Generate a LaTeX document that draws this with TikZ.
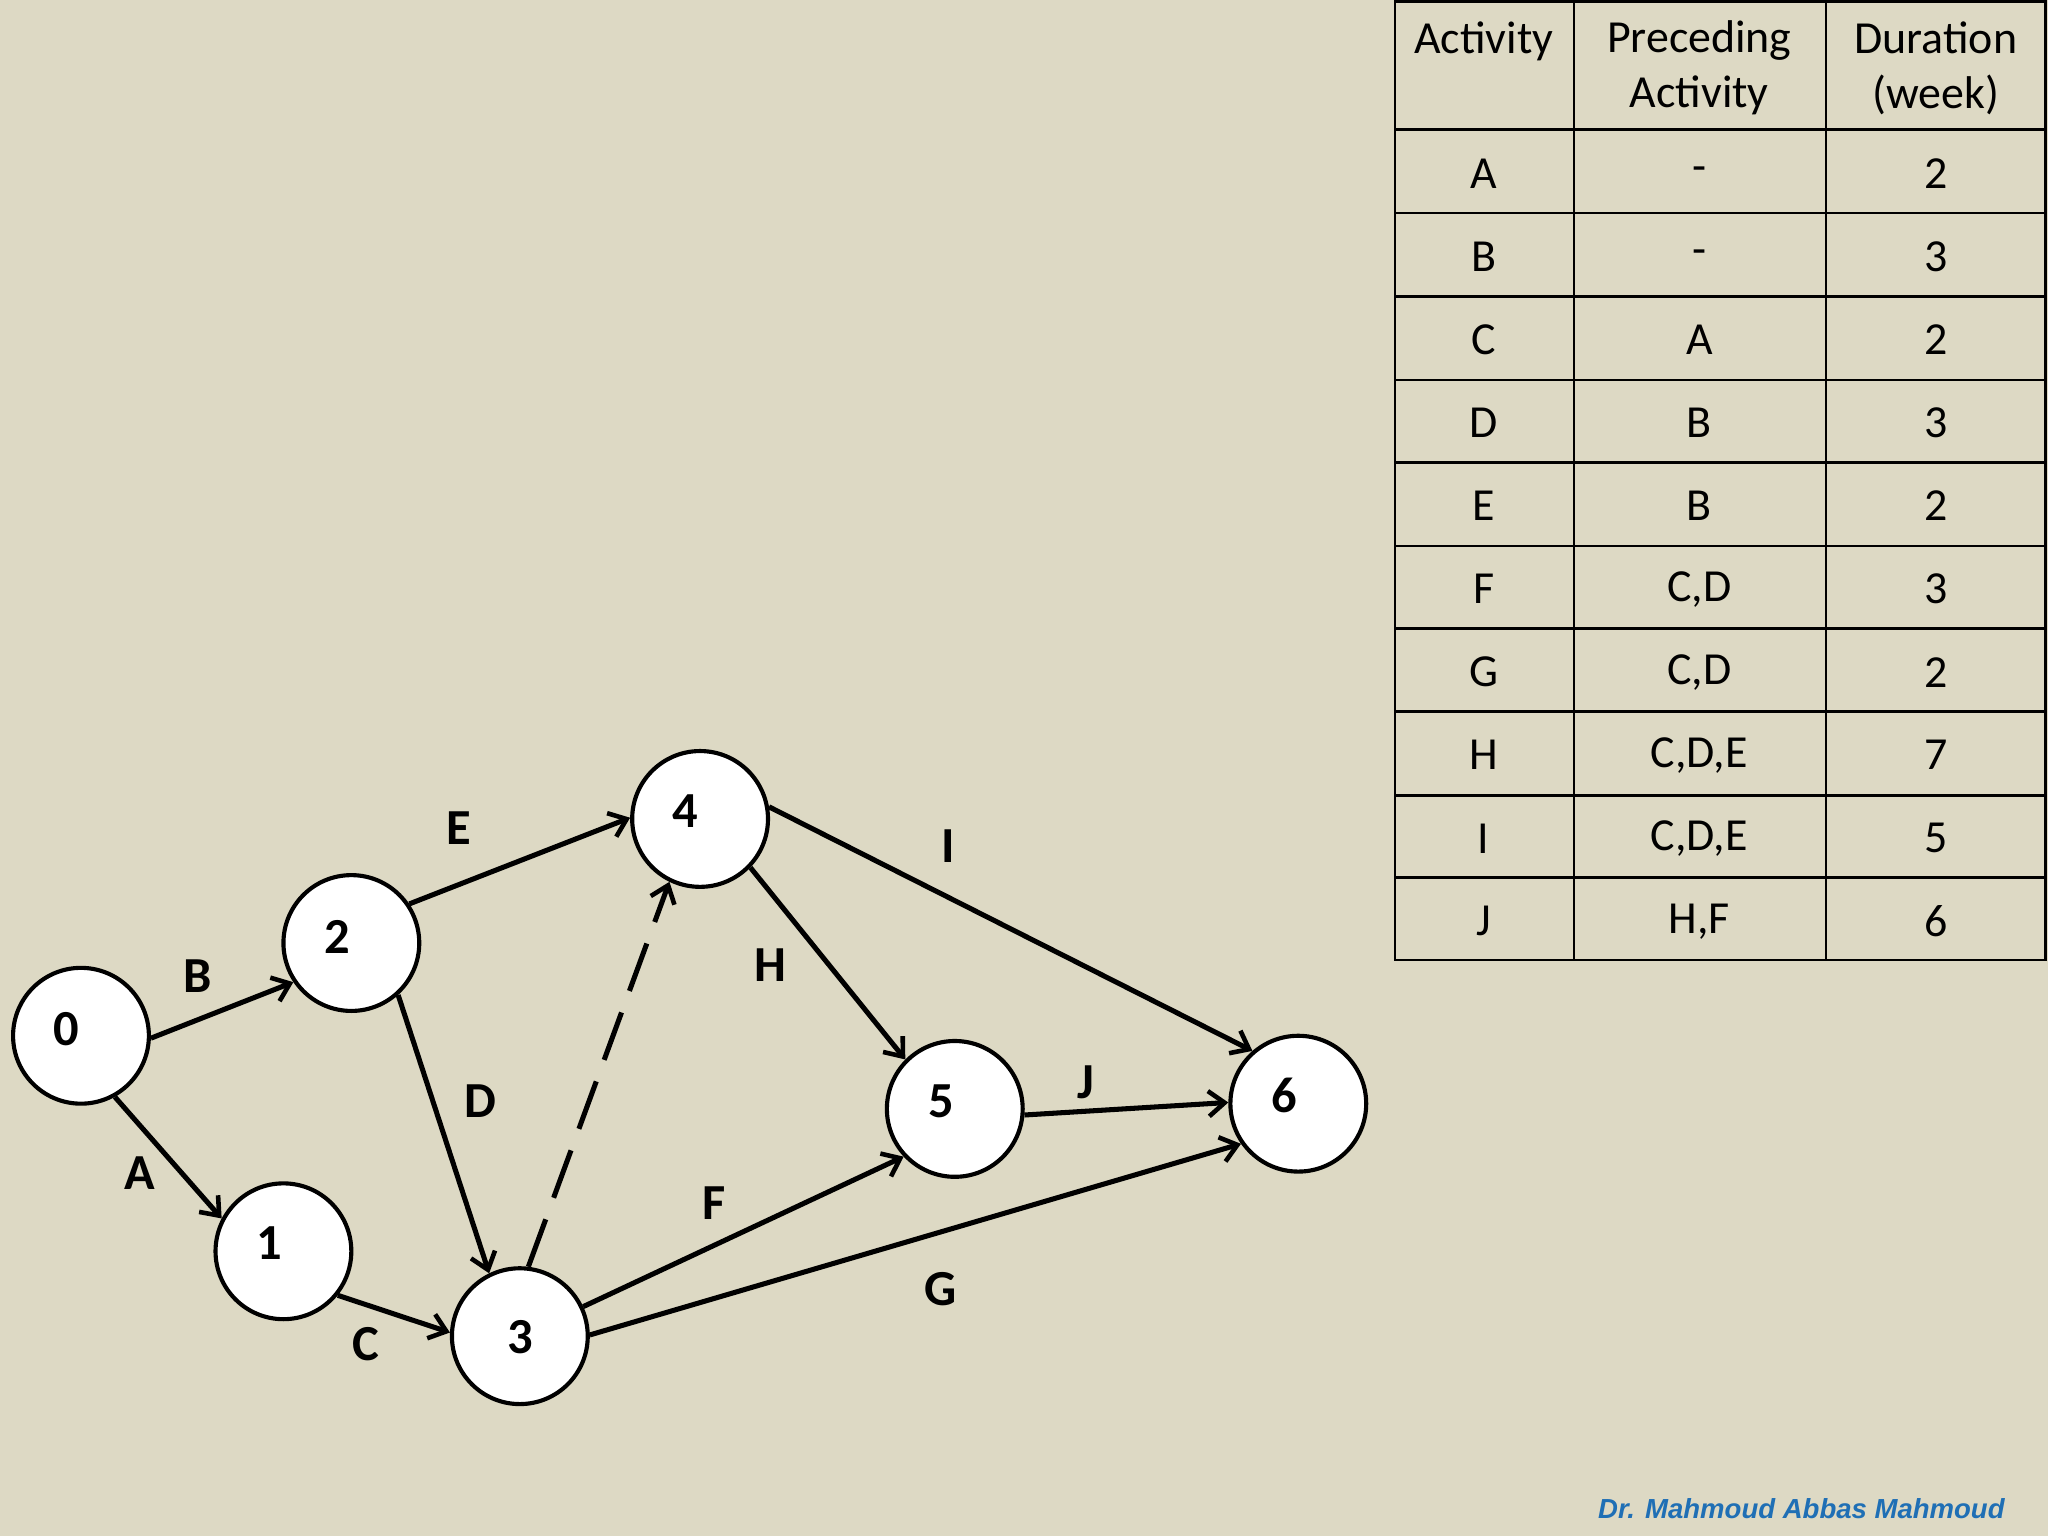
\documentclass[tikz,border=0pt]{standalone}
\usepackage{fontspec}
\setmainfont{Carlito}
\newfontfamily\authorfont{Liberation Sans}
\usetikzlibrary{arrows.meta}
\definecolor{bg}{HTML}{DDD9C4}
\definecolor{auth}{HTML}{1F6FB5}
\begin{document}
\begin{tikzpicture}[x=0.02cm,y=-0.02cm,
  ev/.style={circle,draw,line width=1.8pt,fill=white,minimum size=2.08cm,inner sep=0pt},
  evl/.style={font=\fontsize{22}{24}\selectfont\bfseries},
  act/.style={line width=2.2pt,-{Straight Barb[length=7pt,width=11pt,line width=2pt]}},
  lab/.style={font=\fontsize{22}{24}\selectfont\bfseries},
  cell/.style={font=\fontsize{20}{24}\selectfont,align=center}]
\fill[bg] (0,0) rectangle (1568,1176);
\useasboundingbox (0,0) rectangle (1568,1176);
% events
\node[ev] (n0) at (62,793) {};
\node[ev] (n2) at (269,722) {};
\node[ev] (n4) at (536,627) {};
\node[ev] (n1) at (217,958) {};
\node[ev] (n3) at (398,1023) {};
\node[ev] (n5) at (731,849) {};
\node[ev] (n6) at (994,845) {};
\node[evl] at (51,788) {0};
\node[evl] at (258,717) {2};
\node[evl] at (525,621) {4};
\node[evl] at (206,952) {1};
\node[evl] at (398,1024) {3};
\node[evl] at (721,843) {5};
\node[evl] at (983,839) {6};
% activities
\draw[act] (n0.-2) -- (n2.-146);
\draw[act] (n0.-61) -- (n1.152);
\draw[act] (n2.34) -- (n4.179);
\draw[act] (n2.-48) -- (n3.116);
\draw[act] (n1.-39) -- (n3.177);
\draw[act,dash pattern=on 22pt off 10pt] (n3.83) -- (n4.-116);
\draw[act] (n4.-44) -- (n5.135);
\draw[act] (n4.10) -- (n6.131);
\draw[act] (n3.25) -- (n5.-137);
\draw[act] (n3.1) -- (n6.-145);
\draw[act] (n5.-5) -- (n6.179);
\node[lab] (lB) at (151,747) {B};
\node[lab] (lE) at (351,634) {E};
\node[lab] (lI) at (726,648) {I};
\node[lab] (lH) at (590,739) {H};
\node[lab] (lD) at (368,843) {D};
\node[lab] (lJ) at (831,829) {J};
\node[lab] (lA) at (107,898) {A};
\node[lab] (lF) at (547,921) {F};
\node[lab] (lG) at (720,987) {G};
\node[lab] (lC) at (280,1029) {C};
% table
\draw[line width=1.2pt] (1068,1) rectangle (1566,735);
\foreach \x in {1205,1398} \draw[line width=1.2pt] (\x,1) -- (\x,735);
\foreach \y in {99,163,227,291,354,418,481,545,609,672} \draw[line width=1.2pt] (1068,\y) -- (1566,\y);
\node[cell] (h1) at (1136,32) {Activity};
\node[cell] (h2) at (1301,52) {Preceding\\Activity};
\node[cell] (h3) at (1482,52) {Duration\\(week)};
\foreach \a/\p/\d [count=\i] in {A/-/2,B/-/3,C/A/2,D/B/3,E/B/2,F/{C,D}/3,G/{C,D}/2,H/{C,D,E}/7,I/{C,D,E}/5,J/{H,F}/6}{
  \pgfmathsetmacro{\yy}{133+63.6*(\i-1)}
  \node[cell] at (1136,\yy) {\a};
  \node[cell] at (1301,\yy) {\p};
  \node[cell] at (1482,\yy) {\d};
}
\node[anchor=east,text=auth,font=\authorfont\fontsize{12}{14}\selectfont\bfseries\itshape] (au) at (1541,1155) {Dr. Mahmoud Abbas Mahmoud};
\end{tikzpicture}
\end{document}
